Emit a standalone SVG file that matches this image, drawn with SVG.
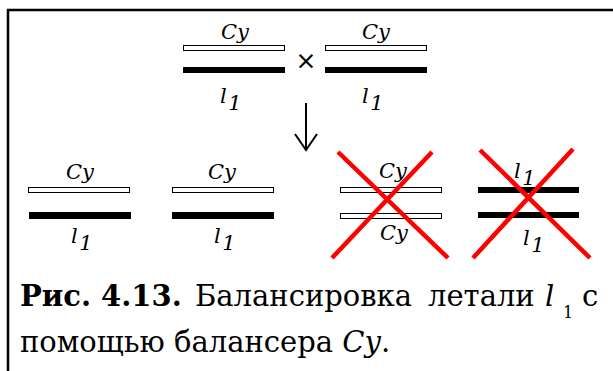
<svg xmlns="http://www.w3.org/2000/svg" width="613" height="371" viewBox="0 0 613 371">
<style>
.hb{fill:#fff;stroke:#000;stroke-width:1}
.bb{fill:#000}
.lab{font-family:'DejaVu Serif',serif;font-style:italic;font-size:21px;fill:#000}
.x{stroke:#f00;stroke-width:4.5;stroke-linecap:butt}
.cap{font-family:'DejaVu Serif',serif;font-size:29px;fill:#000}
.sub{font-family:'DejaVu Serif',serif;font-size:16px;fill:#000}
</style>
<rect width="613" height="371" fill="#fff"/>
<path d="M8 371V10H613" fill="none" stroke="#000" stroke-width="2.5"/>

<g id="pair-top-left">
<rect class="hb" x="183.5" y="45.5" width="101" height="5"/>
<rect class="bb" x="183" y="67" width="102" height="6"/>
<text class="lab" x="235" y="39" text-anchor="middle">Cy</text>
<text class="lab" x="220" y="103">l<tspan dx="1.5" dy="7">1</tspan></text>
</g>
<g id="cross-sign">
<text x="306" y="69" text-anchor="middle" font-family="DejaVu Sans" font-size="25">×</text>
</g>
<g id="pair-top-right">
<rect class="hb" x="325.5" y="45.5" width="101" height="5"/>
<rect class="bb" x="325" y="67" width="102" height="6"/>
<text class="lab" x="376" y="39" text-anchor="middle">Cy</text>
<text class="lab" x="362" y="103">l<tspan dx="1.5" dy="7">1</tspan></text>
</g>

<g id="connectors">
<path d="M306 103V150M295 134L306 150L317 134" fill="none" stroke="#000" stroke-width="2"/>
</g>

<g id="result-1">
<rect class="hb" x="28.5" y="187.5" width="101" height="5"/>
<rect class="bb" x="29" y="212" width="102" height="7"/>
<text class="lab" x="80" y="179" text-anchor="middle">Cy</text>
<text class="lab" x="71" y="243">l<tspan dx="1.5" dy="7">1</tspan></text>
</g>
<g id="result-2">
<rect class="hb" x="172.5" y="187.5" width="101" height="5"/>
<rect class="bb" x="172" y="212" width="102" height="7"/>
<text class="lab" x="222" y="179" text-anchor="middle">Cy</text>
<text class="lab" x="214" y="243">l<tspan dx="1.5" dy="7">1</tspan></text>
</g>
<g id="result-3">
<rect class="hb" x="340.5" y="187.5" width="101" height="5"/>
<rect class="hb" x="340.5" y="213.5" width="101" height="5"/>
<text class="lab" x="393" y="178" text-anchor="middle">Cy</text>
<text class="lab" x="394" y="240" text-anchor="middle">Cy</text>
<path class="x" d="M338 152L448 258M432 152L332 258"/>
</g>
<g id="result-4">
<rect class="bb" x="478" y="187" width="101" height="6"/>
<rect class="bb" x="478" y="212" width="101" height="6"/>
<text class="lab" x="514" y="178">l<tspan dx="1.5" dy="7">1</tspan></text>
<text class="lab" x="523" y="245">l<tspan dx="1.5" dy="7">1</tspan></text>
<path class="x" d="M480 150L590 258M573 149L473 258"/>
</g>

<g id="caption">
<text class="cap" x="20" y="306" font-weight="bold">Рис.</text>
<text class="cap" x="101" y="306" font-weight="bold">4.13.</text>
<text class="cap" x="195" y="306">Балансировка</text>
<text class="cap" x="428" y="306">летали</text>
<text class="cap" x="545" y="306" font-style="italic">l</text>
<text class="sub" x="563" y="318">1</text>
<text class="cap" x="582" y="306">с</text>
<text class="cap" x="20" y="352">помощью балансера <tspan font-style="italic">Cy</tspan>.</text>
</g>
</svg>
